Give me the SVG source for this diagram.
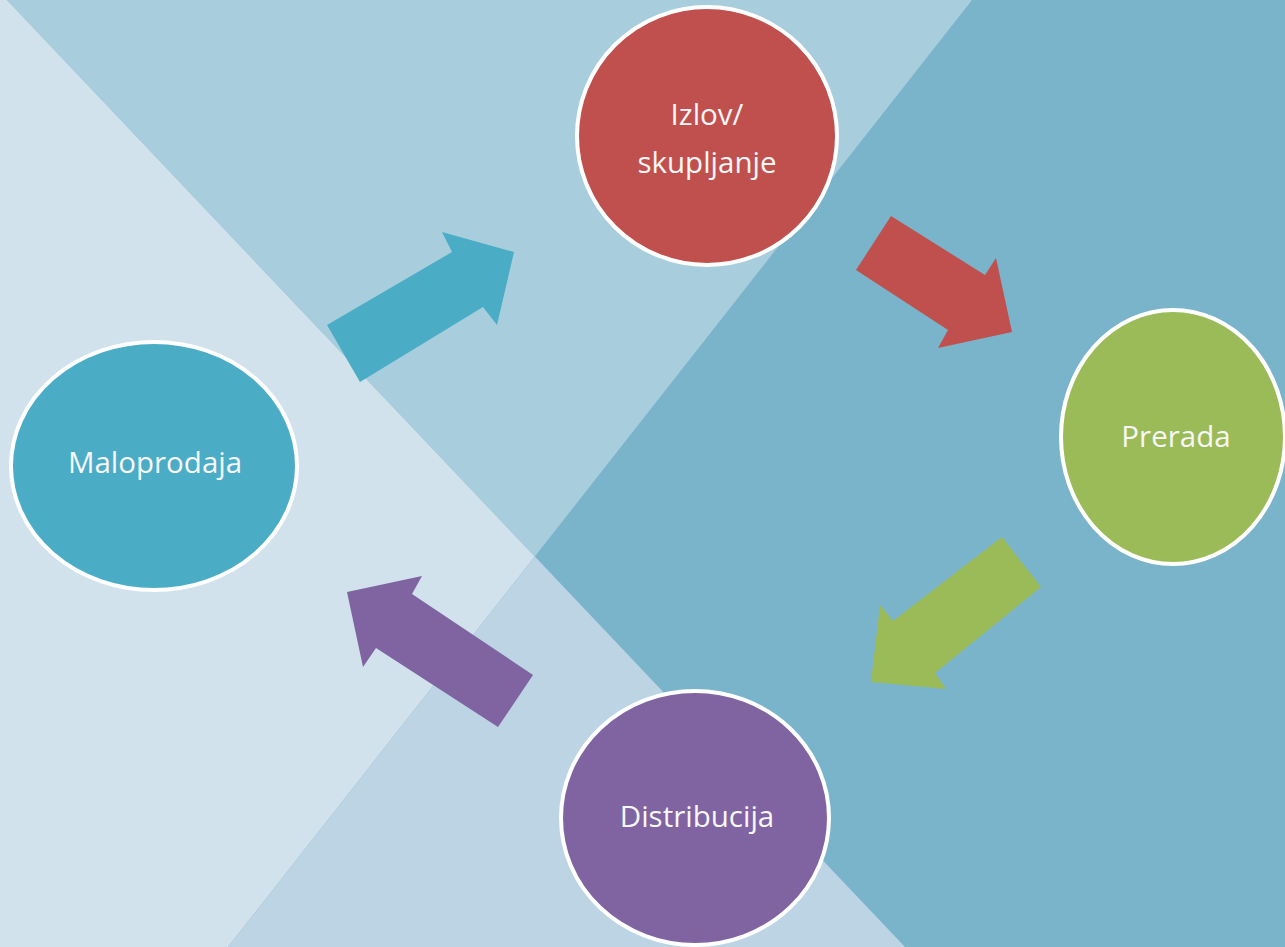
<svg xmlns="http://www.w3.org/2000/svg" width="1285" height="947" viewBox="0 0 1285 947">
  <style>
    .node { stroke: #FFFFFF; stroke-width: 4; }
    .label { font-family: "Open Sans", "Noto Sans", "Liberation Sans", sans-serif; font-size: 29.5px; fill: #F7F7F7; text-anchor: middle; }
  </style>
  <g id="background">
    <rect x="0" y="0" width="1285" height="947" fill="#7AB4CA"/>
    <polygon points="0,0 7,0 534.8,556.5 228,947 0,947" fill="#D1E2EC"/>
    <polygon points="7,0 972,0 534.8,556.5" fill="#A8CEDE"/>
    <polygon points="534.8,556.5 905,947 228,947" fill="#BCD4E3"/>
  </g>
  <g id="connectors">
    <polygon id="arrow-maloprodaja-izlov" points="327,325 452,252 442,232 514,252 497,325 483,307 360,382" fill="#4BACC6"/>
    <polygon id="arrow-izlov-prerada" points="891,216 985,275 996,258 1012,332 938,348 948,330 856,270" fill="#C0504D"/>
    <polygon id="arrow-prerada-distribucija" points="1002,537 1041,587 935,673 946,689 871,682 880,605 893,621" fill="#9BBB59"/>
    <polygon id="arrow-distribucija-maloprodaja" points="533,675 412,594 422,576 347,592 363,667 376,648 498,727" fill="#8064A2"/>
  </g>
  <g id="node-izlov">
    <ellipse class="node" cx="707" cy="136" rx="130" ry="129" fill="#C0504D"/>
    <text class="label" x="707" y="125">Izlov/</text>
    <text class="label" x="707" y="173">skupljanje</text>
  </g>
  <g id="node-prerada">
    <ellipse class="node" cx="1173" cy="437" rx="112" ry="127" fill="#9BBB59"/>
    <text class="label" x="1176" y="447">Prerada</text>
  </g>
  <g id="node-distribucija">
    <ellipse class="node" cx="695" cy="818" rx="134" ry="127" fill="#8064A2"/>
    <text class="label" x="697" y="827">Distribucija</text>
  </g>
  <g id="node-maloprodaja">
    <ellipse class="node" cx="154" cy="466" rx="143" ry="124" fill="#4BACC6"/>
    <text class="label" x="155" y="473">Maloprodaja</text>
  </g>
</svg>
